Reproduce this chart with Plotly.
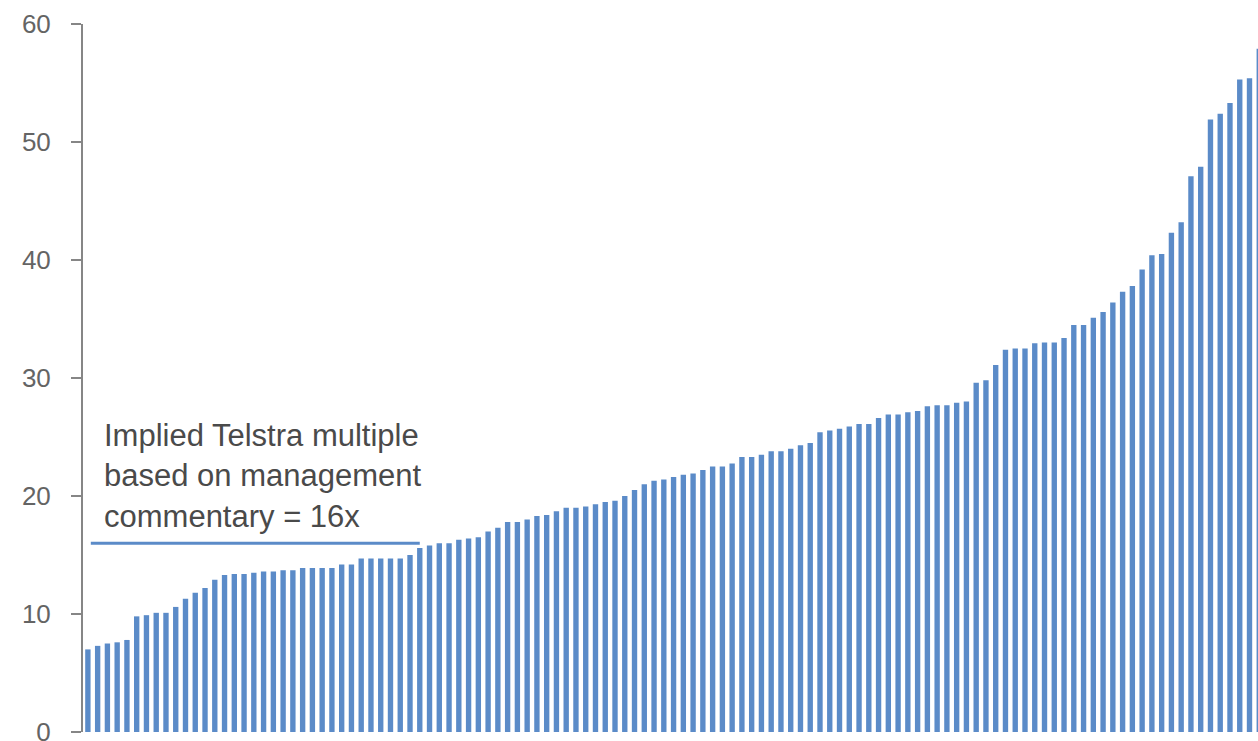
import plotly.graph_objects as go

# Sorted EV/EBITDA-style multiples of comparable companies
multiples = [
    7.0, 7.3, 7.5, 7.6, 7.8, 9.8, 9.9, 10.1, 10.1, 10.6,
    11.3, 11.8, 12.2, 12.9, 13.3, 13.4, 13.4, 13.5, 13.6, 13.6,
    13.7, 13.7, 13.9, 13.9, 13.9, 13.9, 14.2, 14.2, 14.7, 14.7,
    14.7, 14.7, 14.7, 15.0, 15.6, 15.8, 16.0, 16.0, 16.3, 16.4,
    16.5, 17.0, 17.3, 17.8, 17.8, 18.0, 18.3, 18.4, 18.7, 19.0,
    19.0, 19.1, 19.3, 19.5, 19.6, 20.0, 20.5, 21.0, 21.3, 21.4,
    21.6, 21.8, 21.9, 22.2, 22.5, 22.5, 22.75, 23.3, 23.3, 23.5,
    23.8, 23.8, 24.0, 24.3, 24.5, 25.4, 25.55, 25.7, 25.9, 26.1,
    26.1, 26.6, 26.9, 26.9, 27.1, 27.2, 27.6, 27.7, 27.7, 27.9,
    28.0, 29.6, 29.8, 31.1, 32.4, 32.5, 32.5, 32.95, 33.0, 33.0,
    33.4, 34.5, 34.5, 35.1, 35.6, 36.4, 37.3, 37.8, 39.2, 40.4,
    40.5, 42.3, 43.2, 47.1, 47.9, 51.9, 52.4, 53.3, 55.3, 55.4,
    57.9,
]
companies = list(range(1, len(multiples) + 1))
implied_multiple = 16
y_ticks = [0, 10, 20, 30, 40, 50, 60]
annotation_text = "Implied Telstra multiple<br>based on management<br>commentary = 16x"

fig = go.Figure()
fig.add_trace(go.Bar(
    x=companies,
    y=multiples,
    marker=dict(color="#5b8bc8", line=dict(width=0)),
    hoverinfo="y",
))

fig.add_shape(
    type="line", xref="x", yref="y",
    x0=1.3, x1=35.0, y0=implied_multiple, y1=implied_multiple,
    line=dict(color="#5b8bc8", width=3),
)

fig.add_annotation(
    text=annotation_text,
    xref="paper", yref="y",
    x=0.0162, y=21.7,
    xanchor="left", yanchor="middle", align="left",
    showarrow=False,
    font=dict(family="Liberation Sans, Arial, sans-serif", size=31, color="#4a4a4a"),
)

fig.update_layout(
    width=1258, height=741,
    margin=dict(l=83, r=0, t=24, b=9, autoexpand=False),
    paper_bgcolor="white", plot_bgcolor="white",
    bargap=0.45,
    showlegend=False,
    font=dict(family="Liberation Sans, Arial, sans-serif"),
    xaxis=dict(
        range=[0.5, 120.87],
        showline=False, showticklabels=False, ticks="",
        showgrid=False, zeroline=False, automargin=False,
    ),
    yaxis=dict(
        range=[0, 60],
        tickvals=y_ticks,
        showgrid=False, zeroline=False,
        showline=True, linecolor="#868686", linewidth=2,
        ticks="outside", ticklen=10, tickcolor="#868686", tickwidth=2,
        tickfont=dict(size=26, color="#646464"),
        ticklabelstandoff=15,
        ticklabeloverflow="allow",
        automargin=False,
    ),
)

fig.write_html("out.html")
